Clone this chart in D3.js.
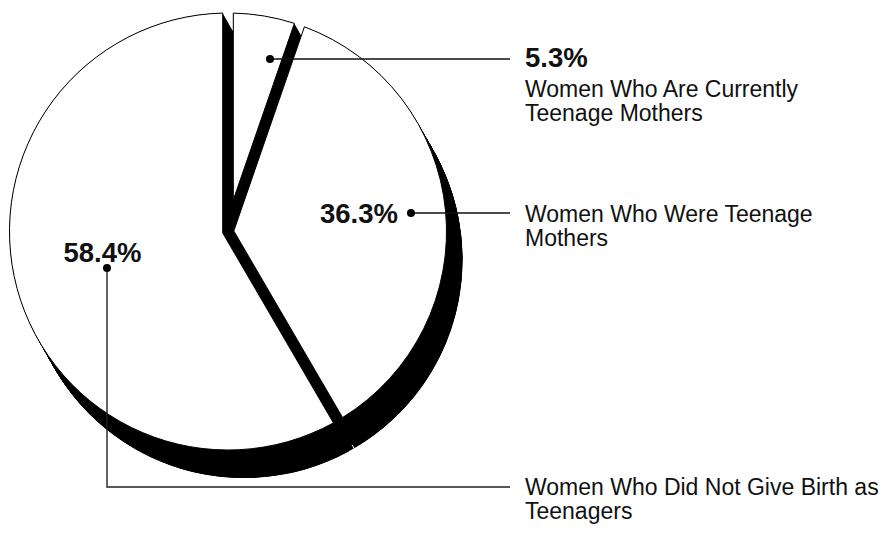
<!DOCTYPE html>
<html>
<head>
<meta charset="utf-8">
<script src="https://cdn.jsdelivr.net/npm/d3@7"></script>
<style>
  html, body { margin: 0; padding: 0; background: #fff; }
  svg { display: block; }
  text { font-family: "Liberation Sans", Arial, Helvetica, sans-serif; fill: #111; }
</style>
</head>
<body>
<svg id="chart" width="894" height="552"></svg>
<script>
// ---- data ----
const categories = [
  "Women Who Are Currently Teenage Mothers",
  "Women Who Were Teenage Mothers",
  "Women Who Did Not Give Birth as Teenagers"
];
const values = [5.3, 36.3, 58.4];
const valueLabels = ["5.3%", "36.3%", "58.4%"];
const descLines = [
  ["Women Who Are Currently", "Teenage Mothers"],
  ["Women Who Were Teenage", "Mothers"],
  ["Women Who Did Not Give Birth as", "Teenagers"]
];

// ---- layout ----
const W = 894, H = 552;
const cx = 228, cy = 231.5, R = 218.5;
const gapHalf = 5.3;           // half width of the separation between slices
const depth = [16, 28];        // extrusion offset (shadow)
const steps = 48;

const svg = d3.select("#chart");
const g = svg.append("g").attr("transform", `translate(${cx},${cy})`);

const pie = d3.pie().sort(null).value(d => d).startAngle(0).endAngle(2 * Math.PI);
const arcs = pie(values);

const polar = (a, r) => [r * Math.sin(a), -r * Math.cos(a)];

function slicePath(a0, a1) {
  const h = (a1 - a0) / 2, m = (a0 + a1) / 2;
  const apex = polar(m, gapHalf / Math.sin(h));
  const d = Math.asin(gapHalf / R);
  const s0 = a0 + d, s1 = a1 - d;
  const p = d3.path();
  p.moveTo(apex[0], apex[1]);
  const st = polar(s0, R);
  p.lineTo(st[0], st[1]);
  p.arc(0, 0, R, s0 - Math.PI / 2, s1 - Math.PI / 2, false);
  p.closePath();
  return p.toString();
}

const fullDisk = d3.arc().innerRadius(0).outerRadius(R)({startAngle: 0, endAngle: 2 * Math.PI});

// black body: floor (lower part of the extrusion) + swept slices
const body = g.append("g").attr("fill", "#000");
const tValues = d3.range(steps + 1).map(i => i / steps);
body.selectAll("path.floor")
  .data(tValues.filter(t => t >= 0.62))
  .join("path")
  .attr("class", "floor")
  .attr("d", fullDisk)
  .attr("transform", t => `translate(${t * depth[0]},${t * depth[1]})`);

arcs.forEach(a => {
  body.selectAll(null)
    .data(tValues)
    .join("path")
    .attr("d", slicePath(a.startAngle, a.endAngle))
    .attr("transform", t => `translate(${t * depth[0]},${t * depth[1]})`);
});

// small separation mark where the big-slice boundary reaches the bottom rim of the body
(function () {
  const a = arcs[2].startAngle;
  const end = polar(a, R);
  const dir = [Math.sin(a), -Math.cos(a)];
  const tip = [end[0] + depth[0], end[1] + depth[1]];
  g.append("line")
    .attr("x1", tip[0] - dir[0] * 4).attr("y1", tip[1] - dir[1] * 4)
    .attr("x2", tip[0] + dir[0] * 0.5).attr("y2", tip[1] + dir[1] * 0.5)
    .attr("stroke", "#fff").attr("stroke-width", 1);
})();

// top faces
g.append("g").selectAll("path.top")
  .data(arcs)
  .join("path")
  .attr("class", "top")
  .attr("d", a => slicePath(a.startAngle, a.endAngle))
  .attr("fill", "#fff")
  .attr("stroke", "#000")
  .attr("stroke-width", 1);

// ---- annotations ----
const ann = svg.append("g");
const lineEndX = 510, textX = 525;
const boldSize = 27.5, descSize = 23, lineGap = 24;

// slice 0: 5.3%
(function () {
  const dot = [270, 59];
  ann.append("line").attr("x1", dot[0]).attr("y1", dot[1]).attr("x2", lineEndX).attr("y2", dot[1])
    .attr("stroke", "#111").attr("stroke-width", 1.4);
  ann.append("circle").attr("cx", dot[0]).attr("cy", dot[1]).attr("r", 4).attr("fill", "#000");
  ann.append("text").attr("x", textX).attr("y", 67.3).attr("font-size", boldSize).attr("font-weight", "bold")
    .text(valueLabels[0]);
  descLines[0].forEach((s, i) => ann.append("text").attr("x", textX).attr("y", 97 + i * lineGap)
    .attr("font-size", descSize).text(s));
})();

// slice 1: 36.3%
(function () {
  const dot = [411, 213];
  ann.append("line").attr("x1", dot[0]).attr("y1", dot[1]).attr("x2", lineEndX).attr("y2", dot[1])
    .attr("stroke", "#111").attr("stroke-width", 1.4);
  ann.append("circle").attr("cx", dot[0]).attr("cy", dot[1]).attr("r", 4).attr("fill", "#000");
  ann.append("text").attr("x", 398).attr("y", 222.5).attr("font-size", boldSize).attr("font-weight", "bold")
    .attr("text-anchor", "end").text(valueLabels[1]);
  descLines[1].forEach((s, i) => ann.append("text").attr("x", textX).attr("y", 222 + i * lineGap)
    .attr("font-size", descSize).text(s));
})();

// slice 2: 58.4%
(function () {
  const dot = [107, 268];
  const yLine = 487;
  ann.append("path").attr("d", `M${dot[0]},${dot[1]}V${yLine}H${lineEndX}`)
    .attr("fill", "none").attr("stroke", "#222").attr("stroke-width", 1.4);
  ann.append("circle").attr("cx", dot[0]).attr("cy", dot[1]).attr("r", 4).attr("fill", "#000");
  ann.append("text").attr("x", 102.5).attr("y", 262).attr("font-size", boldSize).attr("font-weight", "bold")
    .attr("text-anchor", "middle").text(valueLabels[2]);
  descLines[2].forEach((s, i) => ann.append("text").attr("x", textX).attr("y", 495 + i * lineGap)
    .attr("font-size", descSize).text(s));
})();
</script>
</body>
</html>
